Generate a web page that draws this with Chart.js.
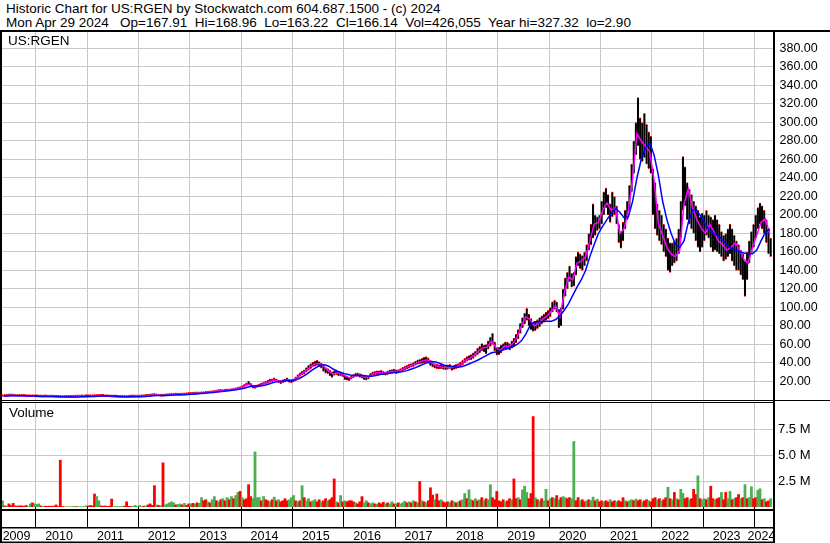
<!DOCTYPE html>
<html>
<head>
<meta charset="utf-8">
<script src="https://cdn.jsdelivr.net/npm/chart.js@4.4.1/dist/chart.umd.min.js"></script>
<style>
  body { margin: 0; background: #fff; }
  #wrap { position: relative; width: 830px; height: 543px; overflow: hidden; background: #fff;
          font-family: "Liberation Sans", Arial, sans-serif; color: #000; }
  canvas { position: absolute; left: 0; }
  #priceChart { top: 30px; }
  #volumeChart { top: 402px; }
  .txt { position: absolute; white-space: pre; font-size: 13.5px; line-height: 14px; z-index: 2; }
</style>
</head>
<body>
<div id="wrap">
  <div class="txt" style="left:6px; top:2px;">Historic Chart for US:RGEN by Stockwatch.com 604.687.1500 - (c) 2024
Mon Apr 29 2024   Op=167.91  Hi=168.96  Lo=163.22  Cl=166.14  Vol=426,055  Year hi=327.32  lo=2.90</div>
  <div class="txt" style="left:8px; top:34px;">US:RGEN</div>
  <div class="txt" style="left:9px; top:406px;">Volume</div>
  <canvas id="priceChart" width="830" height="372"></canvas>
  <canvas id="volumeChart" width="830" height="141"></canvas>
</div>
<script>
// half-month bars from May 2009 to Apr 2024, monthly averages for the two lines
const years = ['2009', '2010', '2011', '2012', '2013', '2014', '2015', '2016',
               '2017', '2018', '2019', '2020', '2021', '2022', '2023', '2024'];
const priceTicks = [20, 40, 60, 80, 100, 120, 140, 160, 180, 200,
                    220, 240, 260, 280, 300, 320, 340, 360, 380];
const volumeTicks = [2.5, 5, 7.5];

const lows = [
  3.8,4.0,4.2,4.5,4.6,4.4,4.3,4.2,4.2,4.3,4.0,3.8,3.7,3.6,3.7,3.8,
  3.6,3.5,3.4,3.5,3.6,3.5,3.4,3.3,3.1,3.0,2.95,2.9,3.0,3.0,2.9,3.0,3.1,3.2,3.3,3.4,3.5,3.6,3.5,3.6,
  3.6,3.7,3.8,3.9,4.0,4.1,4.2,4.0,3.8,3.6,3.4,3.3,3.3,3.3,3.0,3.0,3.1,3.2,3.1,3.2,3.3,3.4,3.4,3.5,
  3.5,3.6,3.8,4.0,4.3,4.6,4.8,5.0,4.5,4.3,4.2,4.3,4.5,4.7,5.0,5.2,5.4,5.5,5.4,5.3,5.5,5.7,5.8,6.0,
  6.2,6.5,6.6,6.8,6.8,6.9,7.0,7.2,7.5,7.8,8.0,8.2,8.8,9.3,9.4,9.2,9.5,9.8,10.0,10.2,10.6,11.2,11.8,12.4,
  13.0,14.0,15.0,16.5,14.0,12.8,12.5,13.5,14.5,15.5,16.5,17.5,18.0,19.0,19.5,20.5,19.5,18.5,17.5,18.5,19.5,20.5,19.0,18.5,
  19.5,21.0,23.5,25.5,27.0,28.0,30.0,32.0,34.0,36.0,36.5,37.5,36.0,34.5,31.0,29.0,28.5,26.0,24.5,26.5,27.5,26.0,26.0,25.0,
  22.0,21.5,21.0,22.5,24.0,25.5,25.5,24.5,23.5,22.0,21.5,22.5,25.0,26.5,27.0,27.5,27.5,28.0,27.0,26.5,27.5,28.5,29.0,29.5,
  28.5,29.0,30.0,31.5,32.5,33.5,34.5,35.5,36.0,37.5,38.5,39.0,39.5,40.0,40.5,39.5,37.0,35.5,34.5,34.0,33.5,34.0,33.0,32.5,
  33.0,34.0,32.0,33.0,34.0,35.0,36.0,38.0,40.0,42.0,43.0,43.5,45.0,47.0,49.0,51.0,53.0,52.0,50.0,55.0,58.0,60.0,53.0,48.5,
  49,51,54,55,55,54,56,58,62,66,72,78,82,86,80,76,74,75,77,79,82,85,86,88,
  90,95,98,95,78,80,98,112,120,128,122,123,135,145,142,140,145,150,162,168,175,178,183,185,
  190,200,208,200,192,198,200,190,170,164,172,185,195,205,225,245,265,275,260,258,262,255,250,245,
  200,185,178,172,168,160,155,140,138,145,148,150,158,175,205,210,195,190,185,180,172,165,160,165,
  172,178,175,165,160,162,160,158,155,150,152,155,158,150,145,140,140,135,130,112,130,148,158,165,
  175,185,190,185,180,170,158,155
];
const highs = [
  4.6,4.8,5.3,5.8,5.6,5.2,5.0,4.9,5.0,5.1,4.8,4.5,4.3,4.2,4.3,4.4,
  4.2,4.0,3.9,4.0,4.1,4.0,3.9,3.7,3.6,3.4,3.3,3.3,3.4,3.3,3.3,3.4,3.6,3.7,3.8,3.9,4.0,4.1,4.0,4.1,
  4.1,4.2,4.4,4.6,4.8,4.9,5.0,4.8,4.5,4.2,4.0,3.8,3.7,3.6,3.5,3.4,3.5,3.6,3.5,3.6,3.7,3.8,3.9,4.0,
  4.0,4.2,4.4,4.6,5.0,5.5,6.2,6.8,5.6,5.2,5.0,5.1,5.3,5.6,5.9,6.1,6.3,6.4,6.3,6.2,6.4,6.6,6.6,6.8,
  7.2,7.5,7.6,7.8,7.8,8.0,8.2,8.4,8.8,9.2,9.4,9.6,10.4,11.0,11.0,10.6,11.0,11.4,11.8,12.0,12.6,13.2,13.8,14.4,
  15.5,17.0,18.5,20.5,18.0,15.5,15.0,16.5,17.5,18.5,19.5,20.5,21.5,22.5,23.0,24.0,23.0,21.5,21.0,22.0,23.0,24.0,22.5,21.5,
  23.0,25.0,27.5,29.5,31.0,32.5,35.0,37.5,39.5,41.0,42.0,43.0,41.5,40.0,37.0,35.0,34.0,32.0,30.5,31.5,32.5,31.0,30.5,29.5,
  27.0,25.5,24.5,26.0,27.5,29.0,29.5,28.5,27.5,26.0,25.5,26.5,29.0,30.5,31.0,31.5,31.5,32.0,31.0,30.5,31.5,32.5,33.0,33.5,
  32.5,33.0,34.0,35.5,36.5,37.5,38.5,39.5,40.5,42.0,43.5,44.0,45.0,46.0,47.0,45.5,43.0,40.5,39.5,38.5,38.0,38.5,37.5,37.0,
  37.5,38.5,37.0,37.5,38.5,39.5,41.0,43.0,45.0,47.0,48.0,49.0,51.0,53.0,56.0,58.0,61.0,59.0,60.0,64.0,68.0,72.0,63.0,57.0,
  57,59,61,63,62.5,61,64,67,71,76,83,89,94,99,93,88,84,85,87,89,91,93,95,97,
  100,106,108,106,98,100,120,132,138,145,137,138,155,160,158,156,160,168,180,190,212,200,198,200,
  215,225,229,222,212,225,220,210,190,182,192,205,215,232,255,280,300,327,305,300,310,298,290,285,
  250,235,212,205,200,190,185,175,170,170,172,175,185,215,263,252,235,228,222,215,210,205,198,202,
  200,205,200,198,195,200,195,190,182,178,180,185,190,185,178,172,168,162,158,150,160,172,182,190,
  200,208,213,210,205,195,185,175
];
// millions of shares per half month
const volumes = [
  0.6,0.1,0.1,0.3,0.15,0.35,0.1,0.08,0.1,0.12,0.06,0.15,0.05,0.3,0.4,0.3,
  0.25,0.3,0.1,0.05,0.08,0.06,0.08,0.07,0.08,0.2,0.05,4.5,0.05,0.02,0.02,0.03,0.02,0.05,0.06,0.03,0.02,0.03,0.05,0.1,
  0.1,0.15,0.1,1.25,1.0,0.6,0.1,0.08,0.1,0.06,0.08,0.77,0.05,0.05,0.04,0.05,0.06,0.08,0.5,0.06,0.05,0.06,0.15,0.05,
  0.15,0.05,0.08,0.1,0.2,0.3,0.15,2.05,0.2,0.15,0.12,4.25,0.2,0.3,0.4,0.5,0.4,0.2,0.25,0.3,0.2,0.35,0.15,0.3,
  0.3,0.35,0.3,0.4,0.35,0.9,0.6,0.7,0.5,0.4,0.7,1.0,0.6,0.5,0.7,0.8,0.6,0.9,0.7,1.0,0.8,1.1,1.4,1.5,
  0.9,0.7,0.8,2.15,1.0,0.8,5.3,0.9,0.9,0.6,1.0,0.7,0.6,0.5,0.7,0.95,0.6,0.7,0.5,0.6,0.8,0.6,0.7,0.9,
  1.1,0.6,0.5,0.6,2.05,0.9,0.6,0.8,0.5,0.6,0.7,0.5,0.7,0.5,0.6,0.8,0.6,0.7,0.9,2.7,0.5,0.4,1.1,0.5,
  0.6,0.5,0.6,0.6,0.5,0.4,0.3,0.5,1.0,0.4,0.6,0.4,0.3,0.4,0.3,0.25,0.4,0.3,0.45,0.3,0.4,0.3,0.5,0.3,
  0.3,0.4,0.3,0.4,0.55,0.4,0.5,0.4,0.6,0.5,0.4,2.45,0.6,0.5,0.4,0.6,1.85,1.15,0.7,1.25,0.6,0.7,0.5,0.4,
  0.5,0.4,0.6,0.5,0.4,0.5,0.6,0.7,1.3,0.8,1.65,0.7,0.6,0.8,0.6,0.7,0.9,0.6,0.8,0.7,2.15,0.9,0.7,1.5,
  0.6,0.5,0.7,0.5,0.6,0.8,0.7,2.7,0.8,0.9,0.7,1.65,2.0,1.4,0.8,1.3,8.7,0.9,0.7,0.6,0.8,0.6,1.7,0.6,
  0.8,0.9,0.8,1.1,0.7,0.9,1.0,0.9,0.8,0.9,0.8,6.3,0.6,0.9,0.6,0.7,0.5,0.6,0.7,0.6,0.95,0.6,0.75,0.5,
  0.6,0.5,0.6,0.5,0.7,0.5,0.6,0.5,0.6,0.5,0.9,0.6,0.5,0.6,0.7,0.6,0.75,0.6,0.7,0.5,0.6,0.7,0.6,0.5,
  0.8,0.9,0.7,0.8,0.6,0.7,0.9,1.9,0.8,0.7,1.4,0.8,0.7,1.7,1.3,0.8,0.9,0.7,0.8,1.7,1.2,3.0,0.8,0.7,
  0.8,0.7,0.9,2.0,0.8,0.7,0.8,0.9,1.4,0.7,1.4,0.8,1.5,0.7,0.8,0.9,1.2,0.8,0.9,2.15,0.8,0.9,1.95,0.8,
  0.9,1.6,1.75,0.7,0.8,0.5,0.6,0.8
];
// g = up week (green), r = down week (red)
const volumeSide = [
  'grgrrrrrrrrrggrg', 'ggrgrrrrrrrrrrgggggrgggg', 'rrrrggrrrrrrgggggrrrrggg',
  'ggrgrrrrgrgrgggggrggrgrr', 'grgrggrrgrggrgrgrgrgrggr', 'grrrrggggrgrrgrgrgrrrrgg',
  'grgrgrggrggrrgrrgrrrgrgr', 'grrrrgrrrggrggrgrrrgrggr', 'grgggrgrgrgrgrgrrrgrrgrr',
  'rgrgrgrggrggrgrgrgrggrrr', 'rrrgrrgrrgrgggrrrgrgrggr', 'grgrgrggrrggrrgrrgrggrgr',
  'rgrrgrrgrrrgrggrgrrgrrgr', 'rrgrgrrgrgrgrggrrgrrrgrg', 'grgrrgrrgrrggrgrrgrgrggr',
  'rggrgrrg'
].join('');

const fastAverage = [
  4.3,4.8,5.1,4.7,4.6,4.4,4.1,4.0,
  3.9,3.8,3.8,3.7,3.4,3.2,3.2,3.2,3.3,3.5,3.7,3.8,
  3.9,4.1,4.4,4.5,4.2,3.8,3.5,3.3,3.3,3.3,3.5,3.7,
  3.8,4.2,4.7,5.5,5.2,4.7,5.0,5.5,5.8,5.8,6.0,6.3,
  6.7,7.1,7.4,7.7,8.3,8.8,9.8,10.2,10.4,11.0,11.8,13.0,
  14.3,17.0,16.0,14.2,16.0,18.0,19.8,21.5,21.0,19.5,21.5,21.0,
  22.0,26.0,29.5,33.0,37.0,39.5,39.0,35.5,31.0,28.0,29.5,28.0,
  25.5,23.5,26.0,27.0,25.0,24.0,27.5,29.5,29.5,29.0,30.0,31.0,
  30.5,32.5,35.0,37.0,38.5,41.0,42.5,43.5,40.5,37.0,36.0,35.0,
  35.0,35.0,36.5,39.0,43.0,45.5,48.5,53.0,56.5,57.0,64.0,57.0,
  53.5,58.0,58.0,61.0,68.0,80.0,90.0,87.0,80.0,83.0,87.5,91.0,
  96,102,90,115,133,130,148,150,155,172,190,192,
  205,213,205,208,180,185,205,240,288,280,274,268,
  238,191,178,165,158,155,162,212,228,208,195,186,
  180,190,182,172,168,162,165,170,162,152,148,165,
  178,192,196,180
];
const slowAverage = [
  4.2,4.4,4.6,4.7,4.7,4.6,4.4,4.2,
  4.0,3.9,3.8,3.8,3.7,3.5,3.4,3.3,3.3,3.3,3.4,3.6,
  3.7,3.8,4.0,4.2,4.3,4.2,4.0,3.7,3.5,3.4,3.4,3.5,
  3.6,3.8,4.1,4.5,4.8,4.9,4.9,5.1,5.4,5.6,5.8,6.0,
  6.3,6.6,7.0,7.3,7.7,8.1,8.6,9.2,9.7,10.2,10.8,11.6,
  12.5,13.8,15.0,15.3,15.2,16.0,17.3,18.8,20.0,20.4,20.8,21.0,
  21.5,23.0,25.5,28.5,32.0,35.0,37.5,38.0,36.5,33.5,31.0,29.5,
  28.0,27.0,26.5,26.5,26.5,26.0,25.8,26.5,27.5,28.5,29.0,29.5,
  30.0,30.5,31.5,33.0,34.5,36.5,38.5,40.5,41.5,41.0,39.5,37.5,
  37.0,36.0,35.5,36.0,37.5,39.5,41.5,43.5,46.0,48.5,51.0,52.0,
  53.0,54.5,56.0,57.5,60.0,64.0,71.0,80.0,84.5,84.5,84.5,85.0,
  85,87,91,97,104,113,122,130,140,155,168,180,
  188,195,202,207,203,197,198,215,240,260,272,278,
  265,243,215,195,180,168,165,172,192,205,205,198,
  190,183,180,177,173,168,164,162,160,159,158,158,
  162,172,181,185
];

const startYear = 2009 + 4 / 12;     // first half-month is May 2009
const xMin = 2009.344, xMax = 2024.358;
const halfMonth = i => startYear + (i + 0.5) / 24;
const month = i => startYear + (i + 0.5) / 12;
const yearBounds = years.slice(1).map(Number);

const gridGrey = '#c8c8c8';
const upGreen = '#4caf50';
const downRed = '#ff0000';
const font = { family: '"Liberation Sans", Arial, sans-serif', size: 12.5 };

Chart.defaults.font.family = font.family;

const frameLines = {
  id: 'frameLines',
  afterDraw(chart, args, opts) {
    const c = chart.ctx;
    c.save();
    c.fillStyle = '#000';
    opts.rects.forEach(r => c.fillRect(r[0], r[1], r[2], r[3]));
    c.restore();
  }
};

const priceChart = new Chart(document.getElementById('priceChart'), {
  data: {
    datasets: [{
      type: 'line',
      data: slowAverage.map((v, i) => ({ x: month(i), y: v })),
      borderColor: '#0000ff', borderWidth: 1.5, pointRadius: 0, tension: 0
    }, {
      type: 'line',
      data: fastAverage.map((v, i) => ({ x: month(i), y: v })),
      borderColor: '#ff00ff', borderWidth: 1.5, pointRadius: 0, tension: 0
    }, {
      type: 'bar',
      data: lows.map((lo, i) => ({ x: halfMonth(i), y: [lo, highs[i]] })),
      backgroundColor: '#000', borderColor: downRed,
      borderWidth: { top: 1, bottom: 1, left: 0, right: 0 }, borderSkipped: false,
      barPercentage: 1, categoryPercentage: 1, minBarLength: 2
    }]
  },
  options: {
    responsive: false, animation: false, events: [],
    layout: { padding: { left: 2, top: 2, bottom: 2, right: 0 }, autoPadding: false },
    plugins: {
      legend: { display: false }, tooltip: { enabled: false },
      frameLines: { rects: [[0, 0, 830, 2], [0, 0, 2, 372], [773, 0, 2, 372], [0, 370, 830, 1]] }
    },
    scales: {
      x: {
        type: 'linear', min: xMin, max: xMax, offset: false,
        afterBuildTicks: s => { s.ticks = yearBounds.map(v => ({ value: v })); },
        afterFit: s => { s.height = 0; s.paddingLeft = 0; s.paddingRight = 0; },
        grid: { color: gridGrey, drawTicks: false, offset: false },
        border: { display: false },
        ticks: { display: false }
      },
      y: {
        position: 'right', min: 0, max: 397.8,
        afterBuildTicks: s => { s.ticks = priceTicks.map(v => ({ value: v })); },
        afterFit: s => { s.width = 57; s.paddingTop = 0; s.paddingBottom = 0; },
        grid: { color: gridGrey, drawTicks: false },
        border: { display: false },
        ticks: { padding: 6.5, color: '#000', font: font, callback: v => v.toFixed(2) }
      }
    }
  },
  plugins: [frameLines]
});

// year labels sit in the middle of the visible part of each year
const labelTicks = years.map(y => {
  const a = Math.max(Number(y), xMin), b = Math.min(Number(y) + 1, xMax);
  return (a + b) / 2 - 0.045;
});

const volumeChart = new Chart(document.getElementById('volumeChart'), {
  type: 'bar',
  data: {
    datasets: [{
      data: volumes.map((v, i) => ({ x: halfMonth(i), y: v })),
      backgroundColor: ctx => volumeSide[ctx.dataIndex] === 'g' ? upGreen : downRed,
      borderWidth: 0, barPercentage: 1, categoryPercentage: 1
    }]
  },
  options: {
    responsive: false, animation: false, events: [],
    layout: { padding: { left: 2, top: 0, bottom: 0, right: 0 }, autoPadding: false },
    plugins: {
      legend: { display: false }, tooltip: { enabled: false },
      frameLines: { rects: [[0, 0, 773, 1], [0, 0, 2, 141], [773, 0, 2, 141],
                            [0, 107, 773, 2], [0, 125, 773, 1.5], [0, 139.5, 775, 1.5]] }
    },
    scales: {
      x: {
        type: 'linear', min: xMin, max: xMax, offset: false,
        afterBuildTicks: s => {
          s.ticks = yearBounds.concat(labelTicks).map(v => ({ value: v }));
        },
        afterFit: s => { s.height = 36; s.paddingLeft = 0; s.paddingRight = 0; },
        grid: {
          offset: false,
          color: c => Number.isInteger(c.tick && c.tick.value) ? gridGrey : 'rgba(0,0,0,0)',
          tickColor: c => Number.isInteger(c.tick && c.tick.value) ? '#000' : 'rgba(0,0,0,0)',
          tickLength: 20
        },
        border: { display: false },
        ticks: {
          autoSkip: false, maxRotation: 0, minRotation: 0, padding: 2,
          color: '#000', font: font,
          callback: v => Number.isInteger(v) ? '' : years[Math.floor(v) - 2009]
        }
      },
      y: {
        position: 'right', min: 0, max: 10.1,
        afterBuildTicks: s => { s.ticks = volumeTicks.map(v => ({ value: v })); },
        afterFit: s => { s.width = 57; s.paddingTop = 0; s.paddingBottom = 0; },
        grid: { color: gridGrey, drawTicks: false },
        border: { display: false },
        ticks: { padding: 5, color: '#000', font: { family: font.family, size: 13 },
                 callback: v => v.toFixed(1) + ' M' }
      }
    }
  },
  plugins: [frameLines]
});
</script>
</body>
</html>
